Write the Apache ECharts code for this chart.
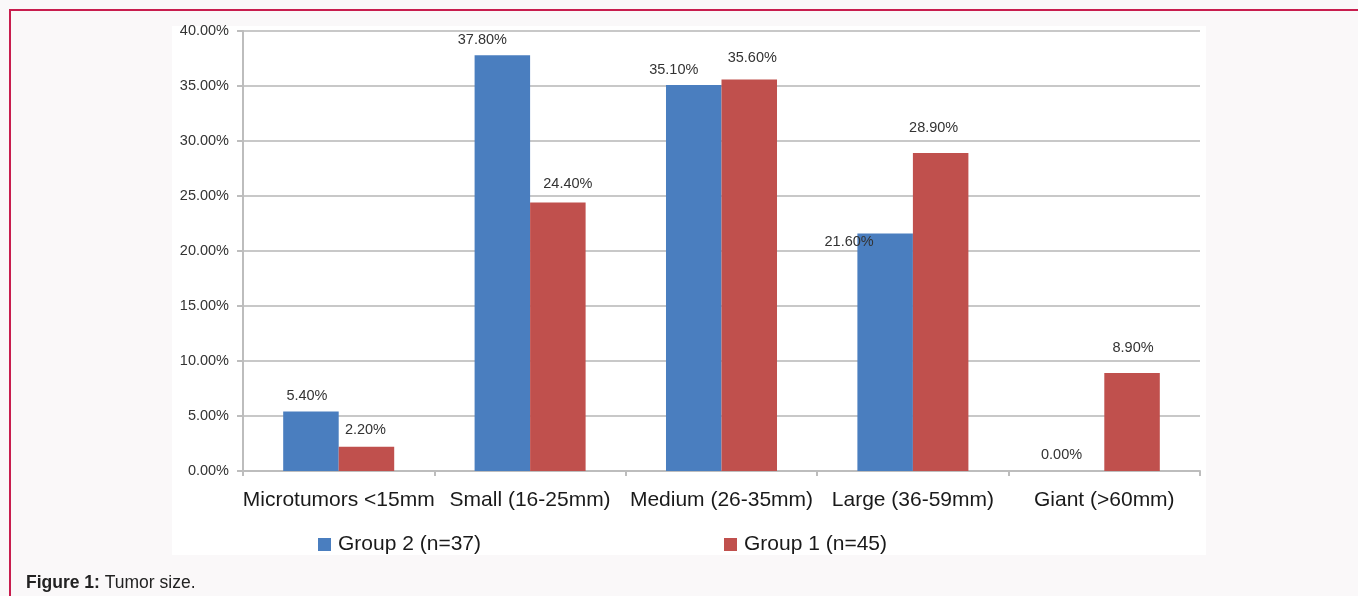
<!DOCTYPE html>
<html>
<head>
<meta charset="utf-8">
<script src="https://cdn.jsdelivr.net/npm/echarts@6/dist/echarts.min.js"></script>
<style>
  html, body { margin: 0; padding: 0; background: #faf8f9; }
  #chart { width: 1358px; height: 596px; }
</style>
</head>
<body>
<div id="chart"></div>
<script>
// data
const categories = ['Microtumors <15mm', 'Small (16-25mm)', 'Medium (26-35mm)', 'Large (36-59mm)', 'Giant (>60mm)'];
const group2Values = [5.4, 37.8, 35.1, 21.6, 0.0];
const group1Values = [2.2, 24.4, 35.6, 28.9, 8.9];
const seriesNames = ['Group 2 (n=37)', 'Group 1 (n=45)'];

// label nudges so the value texts sit where the original puts them
const g2LabelShift = [[-4, -3], [-20, -3], [-20, -2], [-36, 21], [-15, -4]];
const g1LabelShift = [[-1, -4], [10, -6], [3, -9], [-7, -13], [1, -13]];

const FONT = '"Liberation Sans", Arial, Helvetica, sans-serif';
const BLUE = '#4a7ebf';
const RED = '#c0504d';

const chart = echarts.init(document.getElementById('chart'));

function withLabels(values, shifts) {
  return values.map((v, i) => ({
    value: v,
    label: { offset: shifts[i] }
  }));
}

const valueLabel = {
  show: true,
  position: 'top',
  distance: 5,
  fontFamily: FONT,
  fontSize: 14.5,
  color: '#333',
  formatter: p => p.value.toFixed(2) + '%'
};

const option = {
  backgroundColor: '#faf8f9',
  animation: false,
  textStyle: { fontFamily: FONT },
  graphic: [
    {
      type: 'rect',
      z: -10,
      shape: { x: 172, y: 26, width: 1034, height: 529 },
      style: { fill: '#ffffff' }
    },
    {
      type: 'polyline',
      z: 10,
      shape: { points: [[10, 596], [10, 10], [1358, 10]] },
      style: { stroke: '#c81d4e', lineWidth: 2, fill: null }
    }
  ],
  title: {
    text: '{b|Figure 1:} Tumor size.',
    left: 21,
    top: 569,
    textStyle: {
      fontFamily: FONT,
      fontSize: 17.5,
      fontWeight: 'normal',
      color: '#222',
      rich: {
        b: { fontFamily: FONT, fontSize: 17.5, fontWeight: 'bold', color: '#222' }
      }
    }
  },
  legend: {
    data: seriesNames,
    left: 313,
    top: 529,
    itemWidth: 13,
    itemHeight: 13,
    itemGap: 243,
    icon: 'rect',
    textStyle: { fontFamily: FONT, fontSize: 21, color: '#1a1a1a', padding: [0, 0, 0, 2] }
  },
  grid: {
    left: 243,
    right: 158,
    top: 31,
    bottom: 125
  },
  xAxis: {
    type: 'category',
    data: categories,
    axisLine: { lineStyle: { color: '#bdbdbd', width: 2 } },
    axisTick: { show: true, interval: 0, length: 5, lineStyle: { color: '#bdbdbd', width: 2 } },
    axisLabel: { interval: 0, fontFamily: FONT, fontSize: 21, color: '#1a1a1a', margin: 19 }
  },
  yAxis: {
    type: 'value',
    min: 0,
    max: 40,
    interval: 5,
    axisLine: { show: true, lineStyle: { color: '#bdbdbd', width: 2 } },
    axisTick: { show: true, length: 6, lineStyle: { color: '#bdbdbd', width: 2 } },
    splitLine: { lineStyle: { color: '#c8c8c8', width: 2 } },
    axisLabel: {
      fontFamily: FONT,
      fontSize: 14.5,
      color: '#333',
      margin: 14,
      formatter: v => v.toFixed(2) + '%'
    }
  },
  series: [
    {
      name: seriesNames[0],
      type: 'bar',
      data: withLabels(group2Values, g2LabelShift),
      itemStyle: { color: BLUE },
      barGap: '0%',
      barCategoryGap: '42%',
      label: valueLabel
    },
    {
      name: seriesNames[1],
      type: 'bar',
      data: withLabels(group1Values, g1LabelShift),
      itemStyle: { color: RED },
      barGap: '0%',
      barCategoryGap: '42%',
      label: valueLabel
    }
  ]
};

chart.setOption(option);
</script>
</body>
</html>
